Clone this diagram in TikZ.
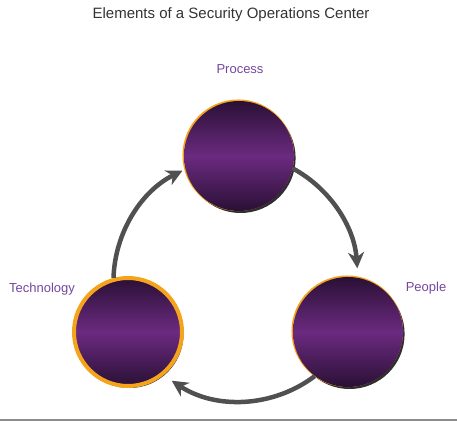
\documentclass[tikz,border=0pt]{standalone}
\usepackage{fontspec}
\setmainfont{Liberation Sans}
\usetikzlibrary{arrows.meta,shadows}
\definecolor{pdark}{HTML}{2A1035}
\definecolor{pmid}{HTML}{6B2A80}
\definecolor{orng}{HTML}{F5A31A}
\definecolor{shd}{HTML}{2E2E2E}
\definecolor{lblc}{HTML}{7446A0}
\definecolor{ttlc}{HTML}{333333}
\definecolor{arrc}{HTML}{505050}
\definecolor{rulec}{HTML}{8C8C8C}
\tikzset{
  ball/.style={circle, inner sep=0pt, minimum size=110pt, shading=axis,
    top color=pdark, bottom color=pdark, middle color=pmid,
    general shadow={shadow xshift=1.6pt, shadow yshift=-2pt, fill=shd},
    general shadow={shadow xshift=-0.7pt, shadow yshift=0.7pt, shadow scale=1.015, fill=orng}},
  ringball/.style={circle, inner sep=0pt, minimum size=108pt, shading=axis,
    top color=pdark, bottom color=pdark, middle color=pmid,
    draw=orng, line width=4pt,
    general shadow={shadow xshift=1.5pt, shadow yshift=-2pt, fill=shd}},
  lbl/.style={text=lblc, font=\fontsize{13}{15}\selectfont, inner sep=0pt},
  conn/.style={draw=arrc, line width=4.5pt, -{Stealth[length=16pt,width=16pt,inset=5pt]}}
}
\begin{document}
\begin{tikzpicture}[x=1pt,y=1pt]
\useasboundingbox (0,0) rectangle (457,421);
\node[text=ttlc, font=\fontsize{15}{18}\selectfont, inner sep=0pt] (title) at (231,406) {Elements of a Security Operations Center};
\node[ball] (proc) at (239,265) {};
\node[ball] (peop) at (348,89) {};
\node[ringball] (tech) at (128,89) {};
\node[lbl] (lproc) at (240,352) {Process};
\node[lbl] (lpeop) at (426,133) {People};
\node[lbl] (ltech) at (42,132) {Technology};
\draw[conn] (proc.-13) arc[start angle=61.5, end angle=4.2, radius=124pt];
\draw[conn] (peop.233) arc[start angle=-52.9, end angle=-123.4, radius=124pt];
\draw[conn] (tech.105) arc[start angle=178.2, end angle=116.3, radius=124pt];
\coordinate (rl) at (0,1.5);
\coordinate (rr) at (457,1.5);
\draw[rulec, line width=2pt] (rl) -- (rr);
\end{tikzpicture}
\end{document}
